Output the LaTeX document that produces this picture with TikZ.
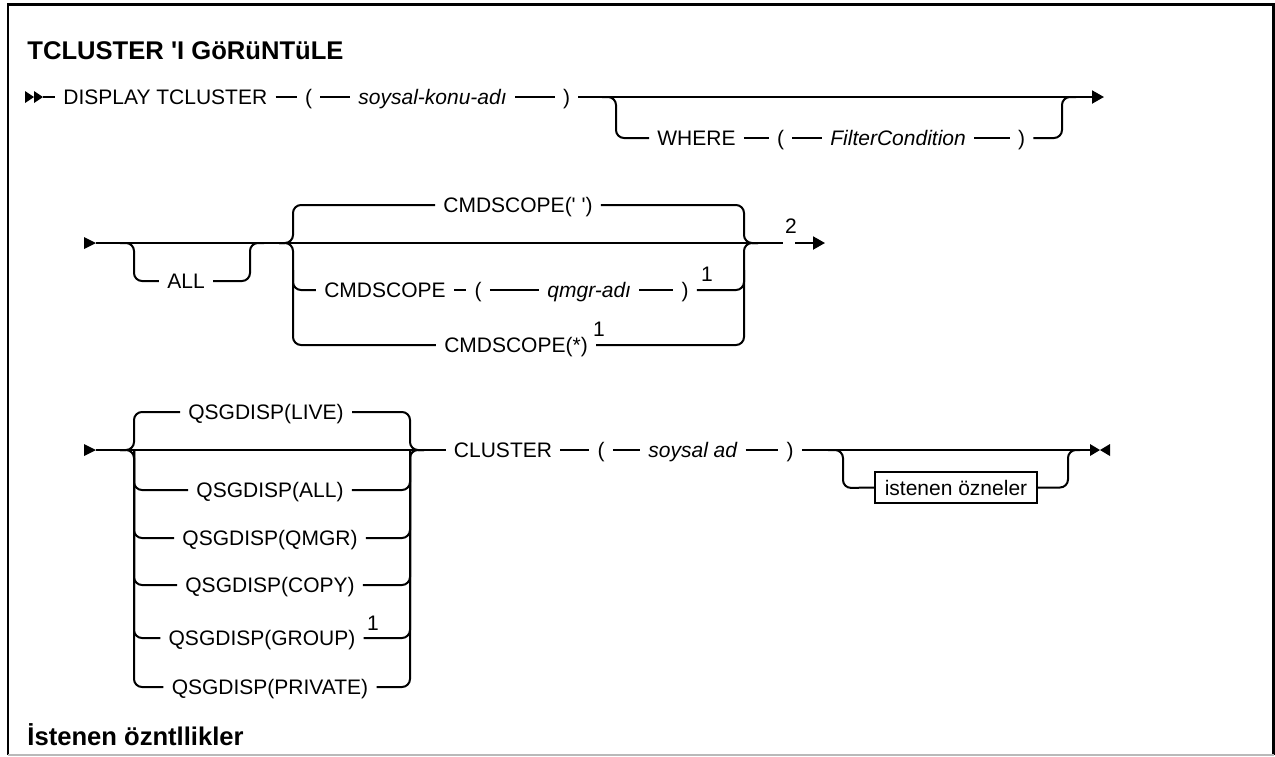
\documentclass[tikz,border=0pt]{standalone}
\usepackage{fontspec}
\setmainfont{Liberation Sans}
\usetikzlibrary{arrows.meta}
\usetikzlibrary{positioning}

\tikzset{
	rail/.style={line width=1pt},
	fork/.style={line width=1pt, rounded corners=4pt},
	kw/.style={inner xsep=4pt, inner ysep=0pt, text height=7.5pt, text depth=0pt, font=\fontsize{10.5}{12}\selectfont},
	var/.style={kw, font=\fontsize{10.5}{12}\selectfont\itshape},
	fn/.style={inner sep=0pt, font=\fontsize{10.5}{12}\selectfont},
	head/.style={anchor=west, inner sep=0pt, text height=9pt, text depth=0pt, font=\fontsize{12.8}{14}\selectfont\bfseries},
	attrbox/.style={draw, line width=1pt, inner xsep=5pt, minimum height=15.5pt, text height=7.5pt, text depth=0pt, font=\fontsize{10.5}{12}\selectfont},
	tip/.style={-{Triangle[length=6pt,width=6.5pt]}}
}

\begin{document}
\begin{tikzpicture}[x=0.5pt,y=-0.5pt]
		\useasboundingbox (0,0) rectangle (1275,756);
		% frame
		\draw[line width=1.25pt] (8,755) -- (8,4.7) -- (1273.5,4.7) -- (1273.5,755);
		\draw[gray!55, line width=0.75pt] (8,755) -- (1273.5,755);

		\node[head] (title) at (27,50) {TCLUSTER \textquotesingle I GöRüNTüLE};
		\node[head] (attrs) at (27,736) {İstenen özntllikler};

		% first line
		\fill (25,91) -- (34,97) -- (25,103) -- cycle;
		\fill (34,91) -- (43,97) -- (34,103) -- cycle;
		\coordinate (s1) at (43,97);
		\node[kw, anchor=west] (disp) at (55,97) {DISPLAY TCLUSTER};
		\node[kw] (lp1) at (308.5,97) {(};
		\node[var, anchor=west] (konu) at (350,97) {soysal-konu-adı};
		\node[kw] (rp1) at (566.5,97) {)};
		\coordinate (e1) at (1104,97);
		\draw[rail] (s1) -- (disp.west);
		\draw[rail] (disp.east) -- (lp1.west) (lp1.east) -- (konu.west) (konu.east) -- (rp1.west);
		\draw[rail, tip] (rp1.east) -- (e1);
		\node[kw, anchor=west] (where) at (649,138) {WHERE};
		\node[kw] (lp2) at (780.5,138) {(};
		\node[var, anchor=west] (filt) at (822,138) {FilterCondition};
		\node[kw] (rp2) at (1021.5,138) {)};
		\draw[rail] (where.east) -- (lp2.west) (lp2.east) -- (filt.west) (filt.east) -- (rp2.west);
		\draw[fork] (602,97) -| (616,138) -- (where.west);
		\draw[fork] (rp2.east) -| (1062,97) -- (1076,97);

		% second line
		\fill (84,237) -- (96,243) -- (84,249) -- cycle;
		\coordinate (s2) at (96,243);
		\coordinate (e2) at (783,243);
		\draw[rail] (s2) -- (e2);
		\node[fn] (n2) at (791,226) {2};
		\draw[rail, tip] (795,243) -- (825,243);
		\node[kw] (all) at (186,281) {ALL};
		\draw[fork] (120,243) -| (134,281) -- (all.west);
		\draw[fork] (all.east) -| (250,243) -- (264,243);
		\node[kw] (cs1) at (518,205) {CMDSCOPE(\textquotesingle\ \textquotesingle)};
		\node[kw] (cs2) at (385,290) {CMDSCOPE};
		\node[kw] (lp3) at (478,290) {(};
		\node[var, anchor=west] (qm) at (539,290) {qmgr-adı};
		\node[kw] (rp3) at (685,290) {)};
		\node[fn] (n1a) at (707,274) {1};
		\node[kw] (cs3) at (516,345) {CMDSCOPE(*)};
		\node[fn] (n1b) at (599,329) {1};
		\draw[rail] (cs2.east) -- (lp3.west) (lp3.east) -- (qm.west) (qm.east) -- (rp3.west);
		\draw[fork] (279,243) -| (293,205) -- (cs1.west);
		\draw[fork] (279,243) -| (293,345) -- (cs3.west);
		\draw[fork] (293,270) |- (cs2.west);
		\draw[fork] (cs1.east) -| (744,243) -- (758,243);
		\draw[fork] (cs3.east) -| (744,243) -- (758,243);
		\draw[fork] (rp3.east) -| (744,270);

		% third line
		\fill (84,444) -- (96,450) -- (84,456) -- cycle;
		\coordinate (s3) at (96,450);
		\node[kw] (live) at (266,412) {QSGDISP(LIVE)};
		\node[kw] (qall) at (270,490) {QSGDISP(ALL)};
		\node[kw] (qmgr) at (270,538) {QSGDISP(QMGR)};
		\node[kw] (copy) at (270,585) {QSGDISP(COPY)};
		\node[kw] (grp) at (262,638) {QSGDISP(GROUP)};
		\node[fn] (n1c) at (373,623) {1};
		\node[kw] (priv) at (270,687) {QSGDISP(PRIVATE)};
		\draw[fork] (120,450) -| (134,412) -- (live.west);
		\draw[fork] (120,450) -| (134,687) -- (priv.west);
		\foreach \n in {qall,qmgr,copy,grp}
			\draw[fork] (134,450) |- (\n.west);
		\draw[fork] (live.east) -| (410,450) -- (424,450);
		\draw[fork] (priv.east) -| (410,450) -- (424,450);
		\foreach \n in {qall,qmgr,copy,grp}
			\draw[fork] (\n.east) -| (410,450);
		\node[kw] (clu) at (503,450) {CLUSTER};
		\node[kw] (lp4) at (601,450) {(};
		\node[var, anchor=west] (soy) at (640,450) {soysal ad};
		\node[kw] (rp4) at (790,450) {)};
		\draw[rail] (s3) -- (clu.west);
		\draw[rail] (clu.east) -- (lp4.west) (lp4.east) -- (soy.west) (soy.east) -- (rp4.west);
		\coordinate (e3) at (1090,450);
		\draw[rail] (rp4.east) -- (e3);
		\node[attrbox] (attr) at (956,487.5) {istenen özneler};
		\draw[fork] (828,450) -| (843,488) -- (attr.west);
		\draw[fork] (attr.east) -| (1068,450) -- (1080,450);
		\fill (1090,444) -- (1100,450) -- (1090,456) -- cycle;
		\fill (1110,444) -- (1100,450) -- (1110,456) -- cycle;
	\end{tikzpicture}
\end{document}
